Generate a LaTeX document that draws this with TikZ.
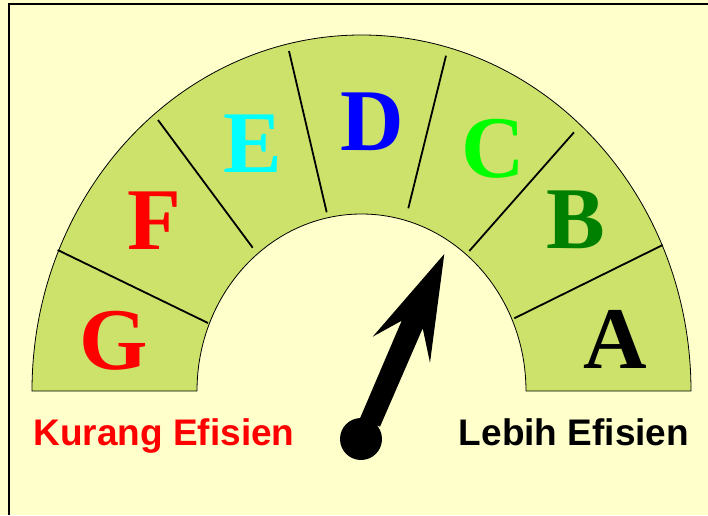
\documentclass[tikz,border=0pt]{standalone}
\usepackage{fontspec}
\setmainfont{Liberation Serif}
\setsansfont{Liberation Sans}
\usepackage{tikz}
\usetikzlibrary{calc}
\definecolor{paper}{RGB}{255,255,204}
\definecolor{ring}{RGB}{204,226,107}
\definecolor{gradeG}{RGB}{255,0,0}
\definecolor{gradeE}{RGB}{0,255,255}
\definecolor{gradeD}{RGB}{0,0,255}
\definecolor{gradeC}{RGB}{0,255,0}
\definecolor{gradeB}{RGB}{0,128,0}

\tikzset{
  grade/.style={anchor=base, font=\fontsize{88}{88}\selectfont\bfseries},
  divider/.style={line width=1.8pt},
  caption/.style={anchor=base, font=\fontsize{37}{37}\selectfont\sffamily\bfseries},
}

\begin{document}
\begin{tikzpicture}[x=1pt, y=1pt]
  \useasboundingbox[fill=paper] (-361.5,-124) rectangle (346.5,391);
  \draw[line width=2.5pt] (-352.5,-124) -- (-352.5,387) -- (346.5,387);
  % ring
  \draw[fill=ring, line width=0.8pt] (-329.5,0)
    arc[start angle=180, end angle=0, x radius=329.5, y radius=356] -- (164.5,0)
    arc[start angle=0, end angle=180, x radius=164.5, y radius=177] -- cycle;
  % dividers
  \draw[divider] (-303.8,141) -- (-153.5,68);
  \draw[divider] (-203.5,271) -- (-108.8,143.3);
  \draw[divider] (-72.5,340) -- (-34.8,178.7);
  \draw[divider] (84.5,335.3) -- (46.8,182.7);
  \draw[divider] (212.5,258.7) -- (107.8,140);
  \draw[divider] (301.2,146) -- (152.8,72.7);
  % grades
  \node[grade, text=gradeG] (G) at (-247.5,22) {G};
  \node[grade, text=gradeG] (F) at (-207.5,142) {F};
  \node[grade, text=gradeE] (E) at (-108.8,218.3) {E};
  \node[grade, text=gradeD] (D) at (11,241) {D};
  \node[grade, text=gradeC] (C) at (131.5,214) {C};
  \node[grade, text=gradeB] (B) at (214.5,142.7) {B};
  \node[grade, text=black] (A) at (253.5,23) {A};
  % needle
  \fill (-1.5,-27.3) -- (40.2,70.3) -- (11.2,54.3) -- (82.8,137)
    -- (68.5,28.3) -- (61.2,62.7) -- (18.5,-35.7) -- cycle;
  \fill (-0.5,-48) circle[radius=21];
  \node[caption, text=gradeG] (low) at (-197.5,-54) {Kurang Efisien};
  \node[caption, text=black] (high) at (212.5,-54) {Lebih Efisien};
\end{tikzpicture}
\end{document}
